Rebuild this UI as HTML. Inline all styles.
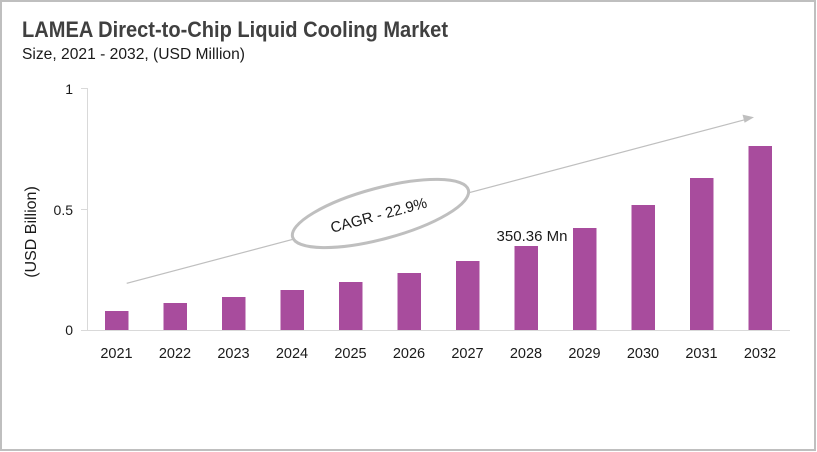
<!DOCTYPE html>
<html>
<head>
<meta charset="utf-8">
<style>
html,body{margin:0;padding:0;background:#fff;}
svg{display:block;}
text{font-family:"Liberation Sans",Arial,sans-serif;}
</style>
</head>
<body>
<svg width="817" height="452" viewBox="0 0 817 452" xmlns="http://www.w3.org/2000/svg">
  <rect x="0" y="0" width="817" height="452" fill="#fff"/>
  <rect x="1" y="1" width="814" height="449" fill="none" stroke="#bfbfbf" stroke-width="2"/>

  <!-- Title -->
  <text x="22" y="37" font-size="22" font-weight="bold" fill="#404040" textLength="426" lengthAdjust="spacingAndGlyphs">LAMEA Direct-to-Chip Liquid Cooling Market</text>
  <text x="22" y="59" font-size="16" fill="#1a1a1a" textLength="223" lengthAdjust="spacingAndGlyphs">Size, 2021 - 2032, (USD Million)</text>

  <!-- Y axis -->
  <line x1="87.5" y1="88" x2="87.5" y2="331" stroke="#d9d9d9" stroke-width="1"/>
  <line x1="81" y1="88.5" x2="87.5" y2="88.5" stroke="#d9d9d9" stroke-width="1"/>
  <line x1="81" y1="209.5" x2="87.5" y2="209.5" stroke="#d9d9d9" stroke-width="1"/>
  <line x1="81" y1="330.5" x2="87.5" y2="330.5" stroke="#d9d9d9" stroke-width="1"/>
  <text x="73" y="94" font-size="14" fill="#1a1a1a" text-anchor="end">1</text>
  <text x="73" y="215" font-size="14" fill="#1a1a1a" text-anchor="end">0.5</text>
  <text x="73" y="335" font-size="14" fill="#1a1a1a" text-anchor="end">0</text>
  <text transform="translate(36,232) rotate(-90)" font-size="16" fill="#1a1a1a" text-anchor="middle">(USD Billion)</text>

  <!-- Bars -->
  <g fill="#a84c9d">
    <rect x="105" y="311" width="23.5" height="19"/>
    <rect x="163.5" y="303" width="23.5" height="27"/>
    <rect x="222" y="297" width="23.5" height="33"/>
    <rect x="280.5" y="290" width="23.5" height="40"/>
    <rect x="339" y="282" width="23.5" height="48"/>
    <rect x="397.5" y="273" width="23.5" height="57"/>
    <rect x="456" y="261" width="23.5" height="69"/>
    <rect x="514.5" y="246" width="23.5" height="84"/>
    <rect x="573" y="228" width="23.5" height="102"/>
    <rect x="631.5" y="205" width="23.5" height="125"/>
    <rect x="690" y="178" width="23.5" height="152"/>
    <rect x="748.5" y="146" width="23.5" height="184"/>
  </g>

  <!-- X axis -->
  <line x1="87" y1="330.5" x2="790" y2="330.5" stroke="#d9d9d9" stroke-width="1"/>
  <g font-size="14.5" fill="#1a1a1a" text-anchor="middle">
    <text x="116.5" y="358">2021</text>
    <text x="175" y="358">2022</text>
    <text x="233.5" y="358">2023</text>
    <text x="292" y="358">2024</text>
    <text x="350.5" y="358">2025</text>
    <text x="409" y="358">2026</text>
    <text x="467.5" y="358">2027</text>
    <text x="526" y="358">2028</text>
    <text x="584.5" y="358">2029</text>
    <text x="643" y="358">2030</text>
    <text x="701.5" y="358">2031</text>
    <text x="760" y="358">2032</text>
  </g>

  <!-- Data label -->
  <text x="532" y="241" font-size="15" fill="#1a1a1a" text-anchor="middle">350.36 Mn</text>

  <!-- Arrow -->
  <line x1="126.7" y1="283.3" x2="745" y2="119.7" stroke="#bfbfbf" stroke-width="1.2"/>
  <polygon points="754,117.3 742.5,114.6 744.6,122.8" fill="#bfbfbf"/>

  <!-- CAGR ellipse -->
  <ellipse cx="380.5" cy="213.5" rx="91" ry="25.5" transform="rotate(-15 380.5 213.5)" fill="#fff" stroke="#bfbfbf" stroke-width="3"/>
  <text transform="translate(380,220) rotate(-15)" font-size="15" fill="#1a1a1a" text-anchor="middle">CAGR - 22.9%</text>
</svg>
</body>
</html>
